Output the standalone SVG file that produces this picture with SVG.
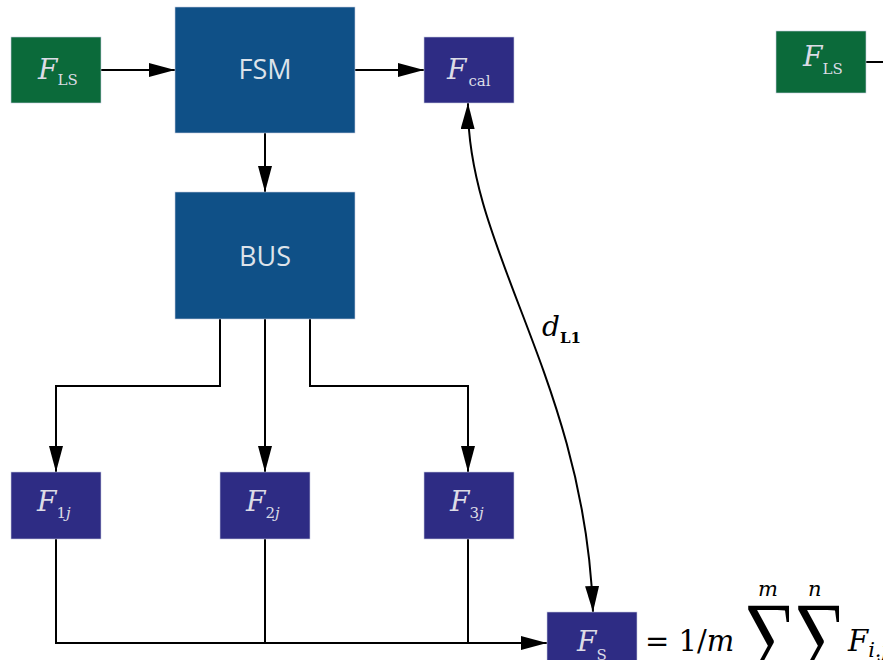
<svg xmlns="http://www.w3.org/2000/svg" width="883" height="660" viewBox="0 0 883 660">
<defs>
<style>
.g{fill:#0b6a3a}
.b{fill:#0f5087}
.n{fill:#2e2c84}
.box{stroke:#c8cde0;stroke-width:0.6}
.lab{font-family:"DejaVu Serif","Liberation Serif",serif;fill:#dcdce6}
.it{font-style:italic;font-size:28px}
.sub{font-size:15px}
.big{font-family:"Open Sans","Liberation Sans",sans-serif;font-size:27px;fill:#dde3ea;text-anchor:middle}
.c{fill:none;stroke:#000;stroke-width:2}
.m{font-family:"DejaVu Serif","Liberation Serif",serif;fill:#000}
.sum{font-family:"Liberation Serif",serif;font-size:56px;fill:#000}
</style>
<marker id="a" viewBox="0 0 26 14" refX="26" refY="7" markerWidth="26" markerHeight="14" orient="auto-start-reverse" markerUnits="userSpaceOnUse"><path d="M0,0 L26,7 L0,14 z" fill="#000"/></marker>
</defs>
<g id="connectors">
<path class="c" d="M101,70 H175" marker-end="url(#a)"/>
<path class="c" d="M355,70 H424" marker-end="url(#a)"/>
<path class="c" d="M265,133 V192" marker-end="url(#a)"/>
<path class="c" d="M220,319 V386 H56 V472" marker-end="url(#a)"/>
<path class="c" d="M265,319 V472" marker-end="url(#a)"/>
<path class="c" d="M310,319 V386 H468 V472" marker-end="url(#a)"/>
<path class="c" d="M56,539 V643 H547" marker-end="url(#a)"/>
<path class="c" d="M265,539 V643"/>
<path class="c" d="M468,539 V643"/>
<path class="c" d="M468,103 C466,250 585,380 593,612" marker-start="url(#a)" marker-end="url(#a)"/>
<path class="c" d="M866,62 H883"/>
</g>
<g id="FLS1"><rect class="g box" x="11" y="37" width="90" height="66"/><text class="lab" x="38" y="79"><tspan class="it">F</tspan><tspan class="sub" dy="6">LS</tspan></text></g>
<g id="FSM"><rect class="b box" x="175" y="7" width="180" height="126"/><text class="big" x="265" y="79">FSM</text></g>
<g id="Fcal"><rect class="n box" x="424" y="37" width="90" height="66"/><text class="lab" x="447" y="79"><tspan class="it">F</tspan><tspan class="sub" dx="2" dy="7">cal</tspan></text></g>
<g id="FLS2"><rect class="g box" x="776" y="31" width="90" height="62"/><text class="lab" x="803" y="66"><tspan class="it">F</tspan><tspan class="sub" dy="8">LS</tspan></text></g>
<g id="BUS"><rect class="b box" x="175" y="192" width="180" height="127"/><text class="big" x="265" y="266">BUS</text></g>
<g id="F1j"><rect class="n box" x="11" y="472" width="90" height="67"/><text class="lab" x="37" y="511"><tspan class="it">F</tspan><tspan class="sub" dy="7">1</tspan><tspan class="sub" font-style="italic">j</tspan></text></g>
<g id="F2j"><rect class="n box" x="220" y="472" width="90" height="67"/><text class="lab" x="246" y="511"><tspan class="it">F</tspan><tspan class="sub" dy="7">2</tspan><tspan class="sub" font-style="italic">j</tspan></text></g>
<g id="F3j"><rect class="n box" x="424" y="472" width="90" height="67"/><text class="lab" x="450" y="511"><tspan class="it">F</tspan><tspan class="sub" dy="7">3</tspan><tspan class="sub" font-style="italic">j</tspan></text></g>
<g id="FS"><rect class="n box" x="547" y="612" width="90" height="60"/><text class="lab" x="577" y="651"><tspan class="it">F</tspan><tspan class="sub" dy="9">S</tspan></text></g>
<g id="dL1"><text class="m" x="542" y="336"><tspan font-style="italic" font-size="28">d</tspan><tspan font-size="15" dy="7" font-weight="bold">L1</tspan></text></g>
<g id="formula">
<text class="m" x="645" y="651" font-size="29">= 1/<tspan font-style="italic">m</tspan></text>
<text class="sum" transform="translate(743,668) scale(1.35,1.7)">∑</text>
<text class="sum" transform="translate(793,668) scale(1.35,1.7)">∑</text>
<text class="m" x="758" y="596" font-size="21" font-style="italic">m</text>
<text class="m" x="808" y="596" font-size="21" font-style="italic">n</text>
<text class="m" x="848" y="651" font-size="29" font-style="italic">F<tspan font-size="21" dy="6">i.j</tspan></text>
</g>
</svg>
